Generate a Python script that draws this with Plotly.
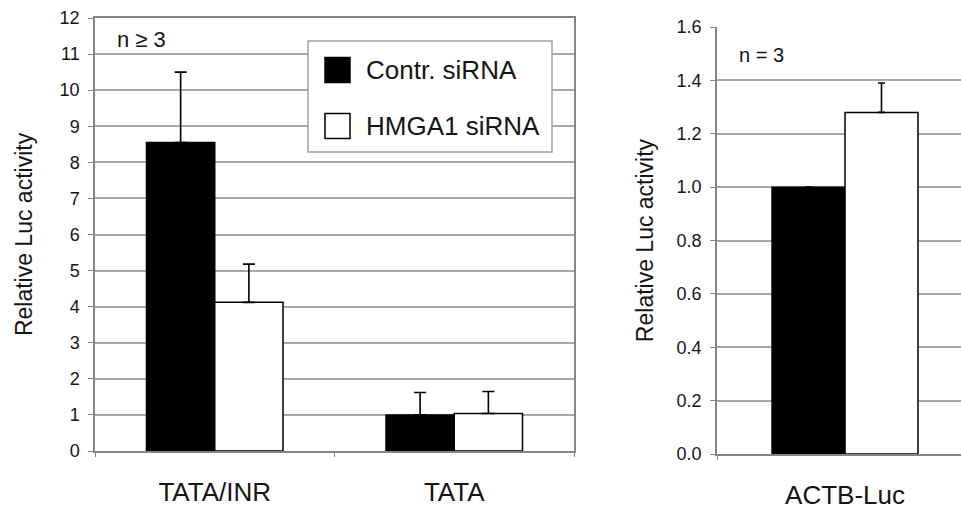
import plotly.graph_objects as go

# ---------------- data ----------------
categories_left = ["TATA/INR", "TATA"]
contr_left = [8.55, 1.0]
contr_left_err = [1.95, 0.62]
hmga_left = [4.12, 1.04]
hmga_left_err = [1.06, 0.61]

categories_right = ["ACTB-Luc"]
contr_right = [1.0]
contr_right_err = [0.0]
hmga_right = [1.28]
hmga_right_err = [0.11]

series_names = ["Contr. siRNA", "HMGA1 siRNA"]
left_ticks = list(range(0, 13))
right_ticks = [0.0, 0.2, 0.4, 0.6, 0.8, 1.0, 1.2, 1.4, 1.6]

FONT = "Liberation Sans, Arial, sans-serif"
GRID = "#a8a8a8"
AXIS = "#858585"
TXT = "#151515"

fig = go.Figure()

def add_bars(cats, vals, errs, name, fill, xa, ya, cap):
    fig.add_trace(go.Bar(
        x=cats, y=vals, name=name, xaxis=xa, yaxis=ya,
        marker=dict(color=fill, line=dict(color="black", width=1.5)),
        error_y=dict(type="data", array=errs, arrayminus=[0] * len(errs),
                     symmetric=False, color="black", thickness=1.6, width=cap),
        showlegend=False,
    ))

add_bars(categories_left, contr_left, contr_left_err, series_names[0], "black", "x", "y", 6)
add_bars(categories_left, hmga_left, hmga_left_err, series_names[1], "white", "x", "y", 6)
add_bars(categories_right, contr_right, contr_right_err, series_names[0], "black", "x2", "y2", 3.5)
add_bars(categories_right, hmga_right, hmga_right_err, series_names[1], "white", "x2", "y2", 3.5)

# plot geometry (pixels)
L, R, T, B = 95, 0, 18, 59
W, H = 961, 513
pw = W - L - R
ph = H - T - B

def px(x):
    return (x - L) / pw

def py(y):
    return (H - B - y) / ph

axis_common = dict(
    showline=True, linecolor=AXIS, linewidth=1.5,
    ticks="outside", tickcolor=AXIS, ticklen=5, tickwidth=1.2,
    tickfont=dict(family=FONT, size=18, color=TXT),
    zeroline=False,
)

fig.update_layout(
    width=W, height=H,
    margin=dict(l=L, r=R, t=T, b=B),
    paper_bgcolor="white", plot_bgcolor="white",
    barmode="group", bargap=0.43, bargroupgap=0,
    font=dict(family=FONT, color=TXT),
    showlegend=False,
    xaxis=dict(domain=[0, px(574)], anchor="y", type="category",
               range=[-0.5, 1.5], showline=True, linecolor=AXIS, linewidth=1.5,
               mirror=True, ticks="outside", tickson="boundaries", ticklen=4,
               tickcolor=AXIS, showgrid=False,
               tickfont=dict(family=FONT, size=26, color=TXT),
               ticklabelstandoff=17),
    yaxis=dict(domain=[py(451), 1], anchor="x", range=[0, 12],
               tickvals=left_ticks, showgrid=True, gridcolor=GRID, gridwidth=1.5,
               mirror=True, ticklabelstandoff=5,
               title=dict(text="Relative Luc activity",
                          font=dict(family=FONT, size=23, color=TXT),
                          standoff=21),
               **axis_common),
    xaxis2=dict(domain=[px(717), 1], anchor="y2", type="category",
                range=[-0.5, 0.453], showline=True, linecolor=AXIS, linewidth=1.5,
                ticks="outside", tickson="boundaries", ticklen=4, tickcolor=AXIS,
                showgrid=False,
                tickfont=dict(family=FONT, size=26, color=TXT),
                ticklabelstandoff=17),
    yaxis2=dict(domain=[0, py(27)], anchor="x2", range=[0, 1.6],
                tickvals=right_ticks, tickformat=".1f", showgrid=True,
                gridcolor=GRID, gridwidth=1.5, ticklabelstandoff=5,
                title=dict(text="Relative Luc activity",
                           font=dict(family=FONT, size=23, color=TXT),
                           standoff=17),
                **axis_common),
)

# n annotations
fig.add_annotation(text="n \u2265 3", xref="x domain", yref="y domain",
                   x=(115 - 95) / 479, y=(451 - 40) / 433, xanchor="left", yanchor="middle",
                   showarrow=False, font=dict(family=FONT, size=22, color=TXT))
fig.add_annotation(text="n = 3", xref="x2 domain", yref="y2 domain",
                   x=(737 - 717) / 244, y=(454 - 55) / 427, xanchor="left", yanchor="middle",
                   showarrow=False, font=dict(family=FONT, size=20, color=TXT))

# legend box (drawn)
fig.add_shape(type="rect", xref="paper", yref="paper",
              x0=px(308), x1=px(552), y0=py(152), y1=py(41),
              line=dict(color="#a0a0a0", width=1.5), fillcolor="white", layer="above")
legend_fills = ["black", "white"]
legend_rows = [70, 126]
for name, fill, yc in zip(series_names, legend_fills, legend_rows):
    fig.add_shape(type="rect", xref="paper", yref="paper",
                  x0=px(325), x1=px(350), y0=py(yc + 12.5), y1=py(yc - 12.5),
                  line=dict(color="black", width=1.5), fillcolor=fill, layer="above")
    fig.add_annotation(text=name, xref="paper", yref="paper", x=px(364), y=py(yc),
                       xanchor="left", yanchor="middle", showarrow=False,
                       font=dict(family=FONT, size=26, color=TXT))

fig.write_html("out.html", config={"displayModeBar": False},
               post_script="document.body.style.margin='0';document.body.style.overflow='hidden';")
